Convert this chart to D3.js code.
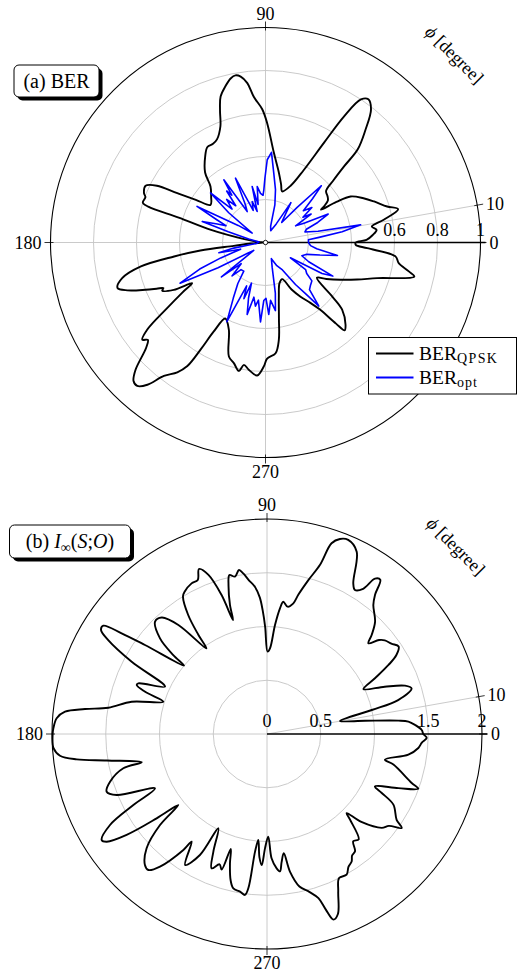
<!DOCTYPE html>
<html>
<head>
<meta charset="utf-8">
<script src="https://cdn.jsdelivr.net/npm/d3@7"></script>
<style>
  body { margin: 0; background: #fff; }
  svg text { font-family: "Liberation Serif", "DejaVu Serif", serif; font-size: 18px; fill: #000; }
</style>
</head>
<body>
<script>
// Two polar plots: (a) BER vs angle, (b) I_inf(S;O) vs angle

// angular ticks, shared by both plots [degree]
var angleTicks = [0, 10, 90, 180, 270];

// (a) BER
var berGrid = [0.2, 0.4, 0.6, 0.8, 1];
var berTickLabels = [0.6, 0.8, 1];
var qpskAngles = [0,1.5,4,6.5,8.5,10.9,14.1,16.5,20.7,24.3,
  28.4,29.8,30.6,31.7,34,36.7,40.4,42.5,44.1,45.3,
  48.4,51.6,54.3,56.3,58.1,59.6,62.2,66,71.9,75,
  79.1,84.7,89.2,91.4,94.6,96.5,98.5,100.2,102,104.4,
  107.1,109,111.2,115.2,118,121.3,124.9,130.8,134.5,140,
  145.6,148.5,150.8,152.4,154.7,157.9,159.3,162,163,164,
  167,171,176,180,184,186,187,188.7,190.9,194,
  197.1,199.1,201.5,203,204,205,207.3,209,211,213.7,
  216.4,218.3,219.6,221.4,224.4,226.4,228.2,230.3,232.7,235.8,
  237.7,238.8,239.8,242.1,247.2,252.2,255.3,258.3,260,262.5,
  266.4,269.2,270.8,275.2,277.8,280,283.8,289,294.5,299,
  302.9,306.6,309,311,312,314.2,318.7,321,325.5,329,
  333.6,338,342.3,347.1,348.6,351.2,353.9,356.8,358.5];
var qpskValues = [0.42,0.47,0.50,0.52,0.50,0.56,0.636,0.59,0.54,0.50,
  0.45,0.38,0.30,0.32,0.35,0.36,0.37,0.43,0.51,0.61,
  0.70,0.79,0.82,0.80,0.69,0.54,0.38,0.29,0.25,0.28,
  0.33,0.42,0.555,0.62,0.68,0.746,0.78,0.79,0.78,0.75,
  0.71,0.65,0.58,0.53,0.52,0.52,0.49,0.43,0.365,0.33,
  0.31,0.38,0.47,0.57,0.617,0.61,0.597,0.60,0.57,0.42,
  0.26,0.10,0.03,0.01,0.07,0.148,0.305,0.43,0.59,0.687,
  0.72,0.68,0.60,0.55,0.52,0.53,0.48,0.39,0.45,0.55,
  0.684,0.73,0.71,0.74,0.846,0.89,0.895,0.86,0.78,0.73,
  0.68,0.58,0.48,0.40,0.44,0.557,0.58,0.61,0.578,0.597,
  0.62,0.577,0.54,0.517,0.457,0.36,0.26,0.20,0.187,0.25,
  0.30,0.35,0.40,0.50,0.55,0.534,0.475,0.40,0.29,0.33,
  0.39,0.46,0.545,0.71,0.68,0.627,0.608,0.474,0.42];
var optAngles = [0,3.6,5.5,8,10.5,12,15,18,21,24.4,
  26.5,29,32,34,37,40,43,45.5,48,51,
  54,57.5,60,66,72.6,76,79.3,83.2,86.2,88.8,
  90.5,91.8,93,95.8,98.4,101,103.4,105,108,111,
  115,118,120.6,123.6,125.5,127,129,132,135,138,
  141,144.7,148,152.2,155,157,159,161.6,164,168,
  175,185,190,192.4,195,199,202,205.5,208,211,
  214,218,221,225,228,232.8,236,240,244,246.5,
  249,251,253,255.7,258,261,263,266.4,268.3,270.5,
  272.6,275,278.3,281,285,290,296,301.7,305.5,308,
  310,313,316,320.4,323,326,328.5,331.2,333.5,336,
  340,344,347,349.8,353,356];
var optValues = [0.20,0.20,0.25,0.36,0.45,0.25,0.19,0.20,0.26,0.32,
  0.20,0.16,0.25,0.21,0.27,0.23,0.30,0.37,0.22,0.12,
  0.15,0.22,0.10,0.06,0.08,0.18,0.25,0.325,0.42,0.385,
  0.30,0.245,0.22,0.23,0.263,0.18,0.268,0.15,0.20,0.16,
  0.33,0.20,0.167,0.35,0.27,0.30,0.22,0.27,0.22,0.344,
  0.22,0.076,0.15,0.36,0.25,0.20,0.24,0.31,0.18,0.08,
  0.03,0.04,0.15,0.222,0.12,0.22,0.33,0.44,0.25,0.10,
  0.066,0.26,0.15,0.22,0.17,0.167,0.23,0.30,0.41,0.22,
  0.28,0.20,0.27,0.345,0.26,0.30,0.27,0.37,0.27,0.26,
  0.335,0.27,0.32,0.24,0.12,0.08,0.12,0.15,0.24,0.30,
  0.386,0.30,0.29,0.28,0.24,0.225,0.136,0.30,0.35,0.22,
  0.18,0.20,0.26,0.34,0.24,0.21];

// (b) I_inf(S;O)
var infGrid = [0.5, 1, 1.5, 2];
var infTickLabels = [0, 0.5, 1.5, 2];
var infAngles = [0,1.5,3.5,5,5.8,7.7,10.1,12.9,14.5,17.5,
  19.3,21.9,25,27.3,29.6,31.4,33.6,36,38.5,40,
  41.8,43.4,46.1,50.5,52.2,53.7,55.2,56.5,58.6,60.2,
  63.8,67.3,69.5,71.3,72.6,75,77.3,78.6,80.8,83,
  84.1,85.8,88,89.6,91,92,93,94.7,96.7,98.4,
  99.7,101.5,103.3,104.5,106,106.6,108.1,110.2,112.4,114.2,
  116.6,120,121.4,123.5,124.7,125.3,129.1,132.1,134.9,138.2,
  139.9,140.5,143.9,145.3,146.5,147.9,149.4,151.9,155.1,158.5,
  159.4,160.9,162.7,166.6,170.6,172.2,173.7,175.7,178.5,180,
  183.8,186,187.6,189.4,192.7,193.4,196.9,199.8,202.1,205.9,
  208,210.1,212.7,213.9,215.7,217.4,218.7,220.4,223.5,227,
  228.9,231.1,234.2,235,238,241,242.7,245.5,247.6,250,
  251.5,252.5,254,256,257.7,260.3,262.2,263.1,264.2,265.3,
  266.5,267.7,269,270.7,272.1,274.1,275.4,276.5,278,279.5,
  282,285,287.4,288.5,289.7,291.5,294.3,296.6,299.5,301.5,
  303.6,305,306.9,308.8,311,314.1,315.2,317,320.7,323,
  325.1,326.5,330.8,332.8,334.1,337.6,340.1,341.3,346.4,347.7,
  351.7,354.7,356.7,358.6];
var infValues = [1.454,1.44,1.38,1.32,1.23,0.92,0.69,1.0,1.26,1.41,
  1.36,1.18,0.99,1.13,1.30,1.41,1.47,1.43,1.40,1.36,
  1.265,1.34,1.45,1.555,1.64,1.78,1.76,1.62,1.57,1.615,
  1.89,1.957,1.937,1.873,1.65,1.48,1.33,1.24,1.20,1.24,
  1.175,1.017,0.797,0.766,1.0,1.15,1.27,1.375,1.44,1.51,
  1.548,1.494,1.52,1.43,1.25,1.106,1.36,1.577,1.66,1.571,
  1.567,1.53,1.50,1.33,1.12,0.975,1.307,1.46,1.475,1.335,
  1.14,1.0,1.405,1.645,1.826,1.823,1.716,1.427,1.046,1.286,
  1.295,1.20,1.01,1.294,1.496,1.709,1.89,1.962,1.988,1.994,
  1.99,1.936,1.786,1.51,1.195,1.374,1.526,1.585,1.509,1.158,
  1.408,1.688,1.827,1.796,1.608,1.292,1.057,1.307,1.544,1.665,
  1.679,1.585,1.33,1.222,1.437,1.287,0.987,1.203,1.352,1.29,
  1.33,1.12,1.25,1.40,1.47,1.488,1.511,1.446,1.10,0.99,
  1.15,1.22,1.064,0.955,1.157,1.253,1.283,1.2,1.12,1.30,
  1.45,1.52,1.60,1.72,1.834,1.80,1.61,1.498,1.504,1.45,
  1.423,1.38,1.364,1.28,1.30,1.11,1.044,1.2,1.379,1.42,
  1.528,1.446,1.347,1.20,1.116,1.321,1.497,1.421,1.21,1.123,
  1.329,1.414,1.441,1.486];

//Size Globals:
var svgWidth = 524;
var svgHeight = 975;
var R = 215;   // outer radius in px

var svg = d3.select('body').append('svg')
    .attr('width', svgWidth)
    .attr('height', svgHeight);

var rad = function(deg){ return deg * Math.PI / 180; };

// draws one polar axis with grid, ticks and the curves
function drawPolar(cx, cy, rMax, grid, tickLabels, series, centerDot){
    var g = svg.append('g').attr('transform', 'translate(' + cx + ',' + cy + ')');
    var r = d3.scaleLinear().domain([0, rMax]).range([0, R]);
    var px = function(deg, rr){ return rr * Math.cos(rad(deg)); };
    var py = function(deg, rr){ return -rr * Math.sin(rad(deg)); };

    //grid circles
    g.selectAll('circle.grid').data(grid.filter(function(v){ return v < rMax; }))
        .enter().append('circle')
        .attr('r', function(v){ return r(v); })
        .attr('fill', 'none').attr('stroke', '#c4c4c4').attr('stroke-width', 0.9);

    //angular grid lines (0 is the black radial axis)
    g.selectAll('line.grid').data(angleTicks.filter(function(d){ return d !== 0; }))
        .enter().append('line')
        .attr('x1', 0).attr('y1', 0)
        .attr('x2', function(d){ return px(d, R); })
        .attr('y2', function(d){ return py(d, R); })
        .attr('stroke', '#c4c4c4').attr('stroke-width', 0.9);

    //outer circle
    g.append('circle').attr('r', r(rMax))
        .attr('fill', 'none').attr('stroke', '#000').attr('stroke-width', 1.1);

    //radial axis line
    g.append('line').attr('x1', 0).attr('y1', 0).attr('x2', R + 5).attr('y2', 0)
        .attr('stroke', '#000').attr('stroke-width', 1.3);

    //angle ticks
    g.selectAll('line.tick').data(angleTicks).enter().append('line')
        .attr('x1', function(d){ return px(d, R - 3); })
        .attr('y1', function(d){ return py(d, R - 3); })
        .attr('x2', function(d){ return px(d, R + 6); })
        .attr('y2', function(d){ return py(d, R + 6); })
        .attr('stroke', '#000').attr('stroke-width', 0.8);

    //angle labels
    g.selectAll('text.ang').data(angleTicks).enter().append('text')
        .attr('x', function(d){
            if (d === 90 || d === 270) return 0;
            return px(d, R + 9);
        })
        .attr('y', function(d){
            if (d === 90) return -R - 8;
            if (d === 270) return R + 20;
            return py(d, R + 9) + 6;
        })
        .attr('text-anchor', function(d){
            if (d === 90 || d === 270) return 'middle';
            return d === 180 ? 'end' : 'start';
        })
        .text(function(d){ return d; });

    //radial tick labels
    g.selectAll('text.rt').data(tickLabels).enter().append('text')
        .attr('x', function(v){ return r(v); })
        .attr('y', -7)
        .attr('text-anchor', 'middle')
        .text(function(v){ return v; });

    //axis label
    var lab = g.append('text')
        .attr('transform', 'translate(' + 189 + ',' + (-188) + ') rotate(45)')
        .attr('text-anchor', 'middle')
        .attr('dy', '0.35em');
    lab.append('tspan').attr('font-style', 'italic').text('\u03D5');
    lab.append('tspan').text(' [degree]');

    //curves
    series.forEach(function(s){
        var pts = d3.zip(s.angles, s.values);
        var line = d3.lineRadial()
            .angle(function(d){ return rad(90 - d[0]); })
            .radius(function(d){ return r(d[1]); })
            .curve(s.curve);
        g.append('path').datum(pts)
            .attr('d', line)
            .attr('fill', 'none')
            .attr('stroke', s.color)
            .attr('stroke-width', s.width)
            .attr('stroke-linejoin', 'round');
    });

    if (centerDot){
        g.append('circle').attr('r', 2.2)
            .attr('fill', '#fff').attr('stroke', '#000').attr('stroke-width', 0.9);
    }
    return g;
}

// rounded label box with drop shadow
function drawTag(x, y, w, h){
    svg.append('rect').attr('x', x + 3.5).attr('y', y + 3.5)
        .attr('width', w).attr('height', h).attr('rx', 5)
        .attr('fill', '#000');
    svg.append('rect').attr('x', x).attr('y', y)
        .attr('width', w).attr('height', h).attr('rx', 5)
        .attr('fill', '#fff').attr('stroke', '#000').attr('stroke-width', 1);
    return svg.append('text').attr('x', x + w / 2).attr('y', y + h / 2 + 6.5)
        .attr('text-anchor', 'middle').style('font-size', '20px');
}

//(a) BER
drawPolar(265.5, 242.5, 1, berGrid, berTickLabels, [
    {angles: qpskAngles, values: qpskValues, color: '#000', width: 1.9, curve: d3.curveCatmullRomClosed.alpha(0.5)},
    {angles: optAngles, values: optValues, color: '#0000ff', width: 1.6, curve: d3.curveLinearClosed}
], true);

var tagA = drawTag(14, 65, 85, 32);
tagA.text('(a) BER');

//legend
var legend = svg.append('g');
legend.append('rect').attr('x', 368.5).attr('y', 337.5).attr('width', 148).attr('height', 56.5)
    .attr('fill', '#fff').attr('stroke', '#000').attr('stroke-width', 1);
var legendItems = [
    {name: 'BER', sub: 'QPSK', color: '#000', y: 353.5},
    {name: 'BER', sub: 'opt', color: '#0000ff', y: 377.5}
];
legendItems.forEach(function(it){
    legend.append('line').attr('x1', 376).attr('x2', 413.5)
        .attr('y1', it.y).attr('y2', it.y)
        .attr('stroke', it.color).attr('stroke-width', 1.8);
    var t = legend.append('text').attr('x', 419).attr('y', it.y + 6).style('font-size', '19.5px');
    t.append('tspan').text(it.name);
    t.append('tspan').attr('dy', 3.5).style('font-size', '14px')
        .attr('letter-spacing', it.sub === 'QPSK' ? '1.4px' : '1px')
        .text(it.sub);
});

//(b) I_inf(S;O)
drawPolar(267, 734, 2, infGrid, infTickLabels, [
    {angles: infAngles, values: infValues, color: '#000', width: 1.9, curve: d3.curveCatmullRomClosed.alpha(0.5)}
], false);

var tagB = drawTag(9.5, 525, 121, 33);
tagB.append('tspan').text('(b) ');
tagB.append('tspan').attr('font-style', 'italic').text('I');
tagB.append('tspan').style('font-size', '14px').attr('dy', 4).text('\u221E');
tagB.append('tspan').attr('dy', -4).text('(');
tagB.append('tspan').attr('font-style', 'italic').text('S');
tagB.append('tspan').text(';');
tagB.append('tspan').attr('font-style', 'italic').text('O');
tagB.append('tspan').text(')');
</script>
</body>
</html>
